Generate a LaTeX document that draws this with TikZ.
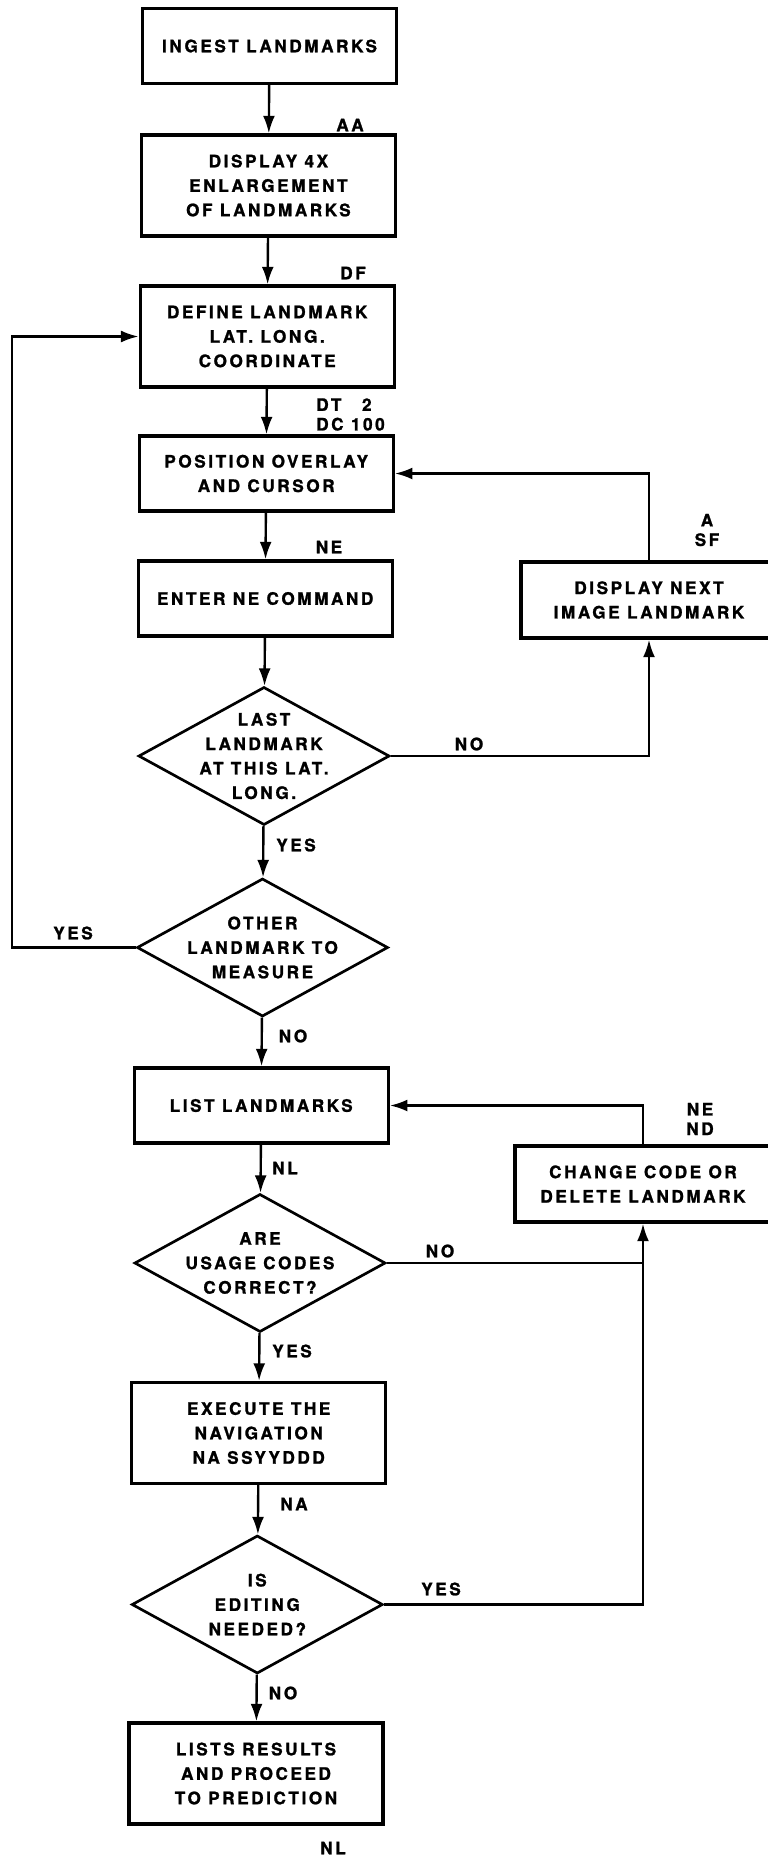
\documentclass[tikz,border=0pt]{standalone}
\usepackage{fontspec}
\newfontfamily\chartfont[LetterSpace=15,FakeBold=1.3]{TeX Gyre Heros}
\usetikzlibrary{arrows.meta,positioning,shapes.geometric}

\begin{document}
\begin{tikzpicture}[x=0.025cm, y=-0.025cm,
    every node/.style={font=\chartfont\bfseries\fontsize{12.2}{17.4}\selectfont},
    proc/.style={draw, line width=2.3pt, minimum width=6.35cm, minimum height=1.875cm, align=center, inner sep=0pt},
    tall/.style={proc, minimum height=2.525cm},
    side/.style={proc, minimum width=6.4cm, minimum height=1.9cm},
    decide/.style={diamond, draw, line width=1.9pt, minimum width=6.275cm, minimum height=3.45cm, inner sep=0pt},
    tag/.style={align=center, inner sep=0pt, font=\chartfont\bfseries\fontsize{12.2}{13.9}\selectfont},
    flow/.style={line width=1.7pt, -{Latex[length=12.5pt, width=8.5pt]}},
    link/.style={line width=1.7pt}]
    \useasboundingbox (0,0) rectangle (768,1856);

    % Main column
    \node[proc] (ingest) at (269.5,46) {INGEST LANDMARKS};
    \node[tall] (enlarge) at (268.4,185.5) {DISPLAY 4X\\ENLARGEMENT\\OF LANDMARKS};
    \node[tall] (define) at (267.2,336.5) {DEFINE LANDMARK\\LAT. LONG.\\COORDINATE};
    \node[proc] (position) at (266.2,473.5) {POSITION OVERLAY\\AND CURSOR};
    \node[proc] (enter) at (265.2,598.5) {ENTER NE COMMAND};
    \node[decide, label={[align=center]center:{LAST\\LANDMARK\\AT THIS LAT.\\LONG.}}] (last) at (264,756) {};
    \node[decide, label={[align=center]center:{OTHER\\LANDMARK TO\\MEASURE}}] (other) at (262.5,947.5) {};
    \node[proc] (list) at (261.2,1105.5) {LIST LANDMARKS};
    \node[decide, label={[align=center]center:{ARE\\USAGE CODES\\CORRECT?}}] (are) at (260,1263) {};
    \node[tall] (execute) at (258.7,1433) {EXECUTE THE\\NAVIGATION\\NA SSYYDDD};
    \node[decide, label={[align=center]center:{IS\\EDITING\\NEEDED?}}] (edit) at (257.3,1604.5) {};
    \node[tall] (results) at (256,1773.5) {LISTS RESULTS\\AND PROCEED\\TO PREDICTION};

    % Side boxes
    \node[side] (next) at (649,600) {DISPLAY NEXT\\IMAGE LANDMARK};
    \node[side] (change) at (643,1184) {CHANGE CODE OR\\DELETE LANDMARK};
    \coordinate (back) at (12,947.5);

    % Flow
    \draw[flow] (ingest) -- (enlarge);
    \draw[flow] (enlarge) -- (define);
    \draw[flow] (define) -- (position);
    \draw[flow] (position) -- (enter);
    \draw[flow] (enter) -- (last);
    \draw[flow] (last) -- (other);
    \draw[flow] (other) -- (list);
    \draw[flow] (list) -- (are);
    \draw[flow] (are) -- (execute);
    \draw[flow] (execute) -- (edit);
    \draw[flow] (edit) -- (results);

    % Loops
    \draw[flow] (last.east) -| (next.south);
    \draw[flow] (next.north) |- (position.east);
    \draw[flow] (other.west) -- (back) |- (define.west);
    \draw[flow] (edit.east) -| (change.south);
    \draw[link] (are.east) -- (are.east -| change.south);
    \draw[flow] (change.north) |- (list.east);

    % Codes and answers
    \node[tag] (aa) at (350,125) {AA};
    \node[tag] (df) at (353,273) {DF};
    \node[tag, align=left, anchor=west] (dtdc) at (316,414.5) {DT\hspace{1.2em}2\\DC 100};
    \node[tag] (ne) at (329,547) {NE};
    \node[tag] (asf) at (707,530) {A\\SF};
    \node[tag] (no1) at (469,744) {NO};
    \node[tag] (yes1) at (296,845) {YES};
    \node[tag] (yes2) at (73,933) {YES};
    \node[tag] (no2) at (293,1036) {NO};
    \node[tag] (nend) at (700,1119) {NE\\ND};
    \node[tag] (nl) at (285,1168) {NL};
    \node[tag] (no3) at (440,1251) {NO};
    \node[tag] (yes3) at (292,1351) {YES};
    \node[tag] (na) at (294,1504) {NA};
    \node[tag] (yes4) at (441,1589) {YES};
    \node[tag] (no4) at (283,1693) {NO};
    \node[tag] (nlend) at (333,1848) {NL};
\end{tikzpicture}
\end{document}
